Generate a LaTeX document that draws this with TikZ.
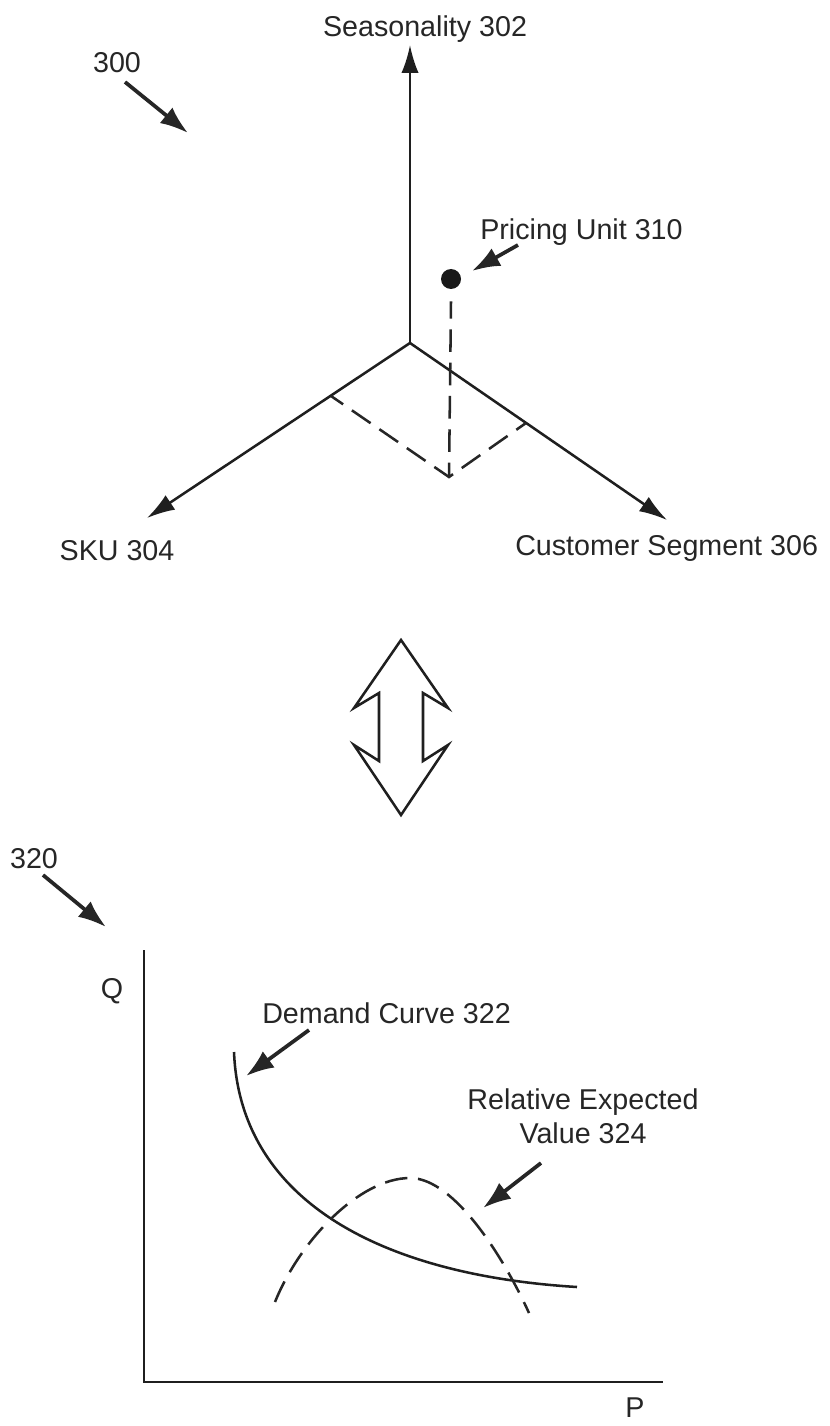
\documentclass[tikz,border=0pt]{standalone}
\usepackage{fontspec}
\setmainfont{Liberation Sans}
\usetikzlibrary{arrows.meta}
\begin{document}
\begin{tikzpicture}[x=0.75pt,y=-0.75pt,
  lbl/.style={font=\fontsize{21.5}{26}\selectfont, text=black!85, inner sep=0pt},
  axisline/.style={line width=1.9pt, draw=black!88},
  axarrow/.style={axisline, -{Latex[length=21pt,width=13pt]}},
  callout/.style={line width=2.8pt, draw=black!85, -{Latex[length=21pt,width=15pt]}},
  dsh/.style={line width=1.9pt, draw=black!85, dash pattern=on 17pt off 8pt},
  curve/.style={line width=1.9pt, draw=black!88},
  dblarrow/.style={line width=1.9pt, draw=black!88, line join=miter},
]
\useasboundingbox (0,0) rectangle (830,1426);

% ---------- top: 3D axes ----------
\node[lbl, anchor=base] (l300) at (117,73) {300};
\coordinate (a300s) at (125,82);
\coordinate (a300e) at (188,133);
\draw[callout] (a300s) -- (a300e);

\node[lbl, anchor=base] (seas) at (425,37) {Seasonality 302};
\coordinate (O) at (410,343);
\coordinate (seasTip) at (410,45);
\coordinate (skuTip) at (147,518);
\coordinate (custTip) at (667,520);
\draw[axarrow] (O) -- (seasTip);
\draw[axarrow] (O) -- (skuTip);
\draw[axarrow] (O) -- (custTip);

\node[lbl, anchor=base] (sku) at (117,560) {SKU 304};
\node[lbl, anchor=base west] (cust) at (515,555) {Customer Segment 306};

\node[circle, fill=black!90, minimum size=15pt, inner sep=0pt] (dot) at (451,279) {};
\node[lbl, anchor=base west] (pu) at (480,240) {Pricing Unit 310};
\coordinate (puS) at (518,245);
\coordinate (puE) at (472,271);
\draw[callout] (puS) -- (puE);

\coordinate (vb) at (449,477);
\coordinate (vl) at (331,396);
\coordinate (vr) at (526,423);
\draw[dsh, dash phase=4pt] (dot.south) ++(0,12) -- (vb);
\draw[dsh, dash phase=6pt] (vl) -- (vb) -- (vr);

% ---------- double arrow ----------
\coordinate (t) at (401,640);
\coordinate (b) at (401,815);
\draw[dblarrow] (t) -- (448,708) -- (423,693) -- (423,761) -- (448,745)
  -- (b) -- (354,745) -- (379,761) -- (379,693) -- (354,708) -- cycle;

% ---------- bottom: demand chart ----------
\node[lbl, anchor=base] (l320) at (34,868) {320};
\coordinate (a320s) at (43,875);
\coordinate (a320e) at (106,927);
\draw[callout] (a320s) -- (a320e);

\coordinate (qTop) at (144,950);
\coordinate (org) at (144,1382);
\coordinate (pEnd) at (663,1382);
\draw[axisline] (qTop) -- (org) -- (pEnd);
\node[lbl, anchor=base] (Q) at (112,998) {Q};
\node[lbl, anchor=base] (P) at (635,1417) {P};

\node[lbl, anchor=base west] (dc) at (262,1023) {Demand Curve 322};
\coordinate (dcS) at (309,1030);
\coordinate (dcE) at (246,1076);
\draw[callout] (dcS) -- (dcE);

\coordinate (dTop) at (234,1052);
\coordinate (dEnd) at (577,1287);
\draw[curve] (dTop) .. controls (240,1200) and (380,1275) .. (dEnd);

\node[lbl, anchor=base] (rev1) at (583,1109) {Relative Expected};
\node[lbl, anchor=base] (rev2) at (583,1143) {Value 324};
\coordinate (revS) at (541,1163);
\coordinate (revE) at (483,1208);
\draw[callout] (revS) -- (revE);

\coordinate (eS) at (275,1302);
\coordinate (eP) at (410,1178);
\coordinate (eE) at (529,1313);
\draw[dsh] (eS) .. controls (300,1240) and (360,1178) .. (eP)
  .. controls (455,1178) and (505,1260) .. (eE);
\end{tikzpicture}
\end{document}
